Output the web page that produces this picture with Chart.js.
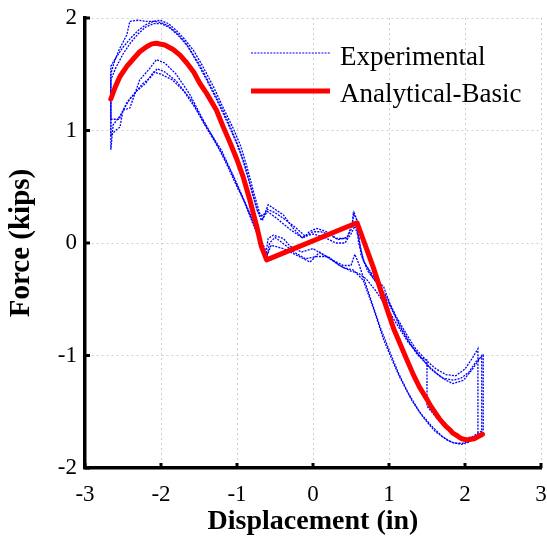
<!DOCTYPE html>
<html>
<head>
<meta charset="utf-8">
<script src="https://cdn.jsdelivr.net/npm/chart.js@4.4.1/dist/chart.umd.min.js"></script>
<style>
html,body{margin:0;padding:0;background:#fff;}
#wrap{width:547px;height:550px;position:relative;}
</style>
</head>
<body>
<div id="wrap"><canvas id="c" width="547" height="550"></canvas></div>
<script>
// ---- Data ----
const xTicks = [-3, -2, -1, 0, 1, 2, 3];
const yTicks = [-2, -1, 0, 1, 2];
const legendLabels = ['Experimental', 'Analytical-Basic'];

const anaX = [-2.66,-2.6,-2.54,-2.45,-2.36,-2.28,-2.19,-2.12,-2.06,-1.95,-1.84,-1.75,-1.66,-1.57,-1.49,-1.40,-1.27,-1.18,-1.09,-1.00,-0.92,-0.83,-0.74,-0.68,-0.61,0.58,0.79,0.925,1.06,1.23,1.32,1.40,1.50,1.55,1.61,1.66,1.71,1.75,1.80,1.84,1.89,1.92,1.96,2.02,2.12,2.23];
const anaY = [1.28,1.39,1.48,1.57,1.64,1.70,1.745,1.77,1.775,1.76,1.72,1.67,1.60,1.52,1.42,1.33,1.18,1.03,0.89,0.74,0.59,0.38,0.145,-0.03,-0.15,0.18,-0.21,-0.49,-0.76,-1.03,-1.17,-1.28,-1.39,-1.45,-1.51,-1.56,-1.60,-1.63,-1.66,-1.69,-1.71,-1.725,-1.74,-1.75,-1.74,-1.70];

const exp1X = [-2.66,-2.66,-2.6,-2.5,-2.4,-2.3,-2.2,-2.1,-2.01,-1.9,-1.8,-1.7,-1.57,-1.45,-1.31,-1.18,-1.05,-0.95,-0.87,-0.78,-0.7,-0.66,-0.59,-0.5,-0.39,-0.26,-0.13,-0.05,0.05,0.18,0.31,0.44,0.51,0.53,0.57,0.6,0.68,0.8,0.93,1.01,1.14,1.25,1.36,1.5,1.63,1.75,1.84,1.98,2.1,2.22,2.22,2.1,1.97,1.86,1.76,1.6,1.45,1.3,1.14,1.06,0.93,0.79,0.66,0.53,0.4,0.22,0.09,-0.04,-0.21,-0.39,-0.55,-0.61,-0.7,-0.79,-0.9,-1.0,-1.2,-1.42,-1.6,-1.8,-1.95,-2.05,-2.14,-2.25,-2.41,-2.55,-2.63,-2.66];
const exp1Y = [0.83,1.57,1.64,1.74,1.82,1.89,1.94,1.97,1.98,1.95,1.89,1.82,1.71,1.57,1.39,1.2,1.02,0.86,0.68,0.45,0.26,0.21,0.34,0.3,0.25,0.13,0.04,0.1,0.13,0.1,0.04,0.04,0.13,0.26,0.22,0.0,-0.18,-0.3,-0.39,-0.54,-0.74,-0.86,-0.98,-1.08,-1.16,-1.22,-1.25,-1.22,-1.12,-1.0,-1.69,-1.75,-1.78,-1.78,-1.75,-1.67,-1.55,-1.4,-1.19,-1.07,-0.86,-0.57,-0.33,-0.24,-0.22,-0.14,-0.08,-0.17,-0.11,-0.05,-0.02,-0.12,0.03,0.17,0.36,0.52,0.82,1.05,1.27,1.44,1.52,1.55,1.47,1.41,1.28,1.12,1.05,0.83];

const exp2X = [-2.66,-2.66,-2.62,-2.55,-2.45,-2.41,-2.3,-2.2,-2.1,-2.0,-1.9,-1.8,-1.7,-1.6,-1.48,-1.35,-1.2,-1.08,-0.97,-0.88,-0.8,-0.72,-0.66,-0.6,-0.5,-0.35,-0.2,-0.1,0.0,0.1,0.2,0.33,0.45,0.52,0.54,0.58,0.63,0.72,0.85,0.97,1.1,1.22,1.35,1.5,1.62,1.75,1.88,2.0,2.1,2.17,2.17,2.05,1.95,1.82,1.7,1.55,1.4,1.25,1.12,1.0,0.88,0.76,0.66,0.6,0.55,0.5,0.4,0.25,0.12,0.0,-0.15,-0.3,-0.39,-0.52,-0.59,-0.62,-0.68,-0.76,-0.88,-1.0,-1.15,-1.3,-1.45,-1.62,-1.8,-1.95,-2.06,-2.15,-2.28,-2.41,-2.5,-2.54,-2.6,-2.66];
const exp2Y = [0.95,1.5,1.6,1.72,1.85,1.97,1.98,1.97,1.97,1.96,1.93,1.87,1.8,1.7,1.57,1.4,1.2,1.02,0.84,0.64,0.45,0.27,0.24,0.3,0.27,0.2,0.12,0.06,0.1,0.1,0.08,0.03,0.05,0.18,0.27,0.2,-0.1,-0.25,-0.36,-0.48,-0.66,-0.8,-0.94,-1.05,-1.12,-1.17,-1.18,-1.12,-1.02,-0.94,-1.72,-1.77,-1.79,-1.77,-1.72,-1.62,-1.5,-1.33,-1.15,-0.95,-0.74,-0.5,-0.3,-0.18,-0.1,-0.2,-0.2,-0.15,-0.1,-0.05,-0.08,-0.03,0.04,0.07,0.04,-0.1,0.0,0.15,0.34,0.5,0.72,0.92,1.1,1.32,1.5,1.6,1.63,1.55,1.45,1.2,1.18,1.03,1.0,0.95];

const exp3X = [-2.66,-2.66,-2.6,-2.5,-2.4,-2.3,-2.2,-2.1,-2.0,-1.9,-1.78,-1.65,-1.52,-1.4,-1.25,-1.12,-1.0,-0.9,-0.82,-0.74,-0.68,-0.6,-0.48,-0.3,-0.15,0.0,0.15,0.3,0.42,0.5,0.55,0.6,0.66,0.78,0.9,1.02,1.15,1.28,1.42,1.5,1.5,1.62,1.76,1.9,2.0,2.1,2.2,2.24,2.24,2.15,2.05,1.95,1.85,1.7,1.55,1.4,1.25,1.1,0.95,0.82,0.7,0.6,0.5,0.35,0.2,0.05,-0.1,-0.25,-0.4,-0.5,-0.57,-0.6,-0.7,-0.8,-0.92,-1.05,-1.2,-1.38,-1.55,-1.7,-1.85,-2.0,-2.1,-2.2,-2.32,-2.45,-2.55,-2.66];
const exp3Y = [1.1,1.45,1.55,1.68,1.78,1.86,1.92,1.95,1.95,1.92,1.85,1.75,1.6,1.45,1.25,1.06,0.88,0.7,0.5,0.3,0.2,0.28,0.22,0.12,0.05,0.08,0.05,0.0,0.0,0.08,0.15,0.05,-0.15,-0.3,-0.42,-0.57,-0.74,-0.9,-1.02,-1.04,-1.45,-1.55,-1.65,-1.72,-1.74,-1.72,-1.68,-1.66,-1.0,-1.05,-1.15,-1.2,-1.22,-1.2,-1.12,-1.0,-0.88,-0.72,-0.55,-0.42,-0.32,-0.27,-0.25,-0.2,-0.12,-0.12,-0.14,-0.08,0.0,0.05,0.0,-0.1,0.05,0.2,0.4,0.6,0.8,1.0,1.2,1.35,1.45,1.5,1.52,1.42,1.35,1.25,1.1,1.1];

function pts(xs, ys){ return xs.map((x,i)=>({x:x, y:ys[i]})); }

const FONT = "'Liberation Serif', 'Times New Roman', serif";
const BLUE = '#0000ff';
const RED = '#ff0000';

function expDs(xs, ys){
  return {
    label: legendLabels[0], data: pts(xs, ys), showLine: true, pointRadius: 0,
    borderColor: BLUE, borderWidth: 1.3, borderDash: [2,1.2], fill: false, tension: 0
  };
}

const legendPlugin = {
  id: 'insideLegend',
  afterDraw(chart){
    const ctx = chart.ctx;
    ctx.save();
    const xs = chart.scales.x, ys = chart.scales.y, ca = chart.chartArea;
    ctx.strokeStyle = '#000'; ctx.lineWidth = 3; ctx.setLineDash([]);
    xTicks.forEach(v => { const p = xs.getPixelForValue(v); ctx.beginPath(); ctx.moveTo(p, ca.bottom); ctx.lineTo(p, ca.bottom - 5); ctx.stroke(); });
    yTicks.forEach(v => { const p = ys.getPixelForValue(v); ctx.beginPath(); ctx.moveTo(ca.left, p); ctx.lineTo(ca.left + 5, p); ctx.stroke(); });
    ctx.lineWidth = 1.2; ctx.strokeStyle = BLUE; ctx.setLineDash([2,1.2]);
    ctx.beginPath(); ctx.moveTo(251, 53); ctx.lineTo(330, 53); ctx.stroke();
    ctx.setLineDash([]); ctx.lineWidth = 5; ctx.strokeStyle = RED;
    ctx.beginPath(); ctx.moveTo(251, 91); ctx.lineTo(330, 91); ctx.stroke();
    ctx.fillStyle = '#000'; ctx.font = '27px ' + FONT; ctx.textBaseline = 'alphabetic'; ctx.textAlign = 'left';
    ctx.fillText(legendLabels[0], 340, 65);
    ctx.fillText(legendLabels[1], 340, 102);
    ctx.restore();
  }
};

new Chart(document.getElementById('c'), {
  type: 'scatter',
  data: {
    datasets: [
      { label: legendLabels[1], data: pts(anaX, anaY), showLine: true, pointRadius: 0,
        borderColor: RED, borderWidth: 5, borderJoinStyle: 'round', borderCapStyle: 'round', fill: false, tension: 0 },
      expDs(exp1X, exp1Y), expDs(exp2X, exp2Y), expDs(exp3X, exp3Y)
    ]
  },
  options: {
    responsive: false, animation: false, devicePixelRatio: 1,
    layout: { padding: { top: 18, right: 6, left: 0, bottom: 0 } },
    plugins: { legend: { display: false }, tooltip: { enabled: false } },
    scales: {
      x: {
        type: 'linear', min: -3, max: 3,
        afterBuildTicks: s => { s.ticks = xTicks.map(v => ({ value: v })); },
        afterFit: s => { s.height = 82; s.paddingLeft = 0; s.paddingRight = 0; },
        ticks: { color: '#000', font: { family: FONT, size: 23 }, padding: 13, maxRotation: 0 },
        grid: { color: '#cfcfcf', lineWidth: 1, drawTicks: false },
        border: { display: true, color: '#000', width: 3.5, dash: [2,3] },
        title: { display: true, text: 'Displacement (in)', color: '#000', font: { family: FONT, size: 28, weight: 'bold' }, padding: { top: 0, bottom: 11 } }
      },
      y: {
        type: 'linear', min: -2, max: 2,
        afterBuildTicks: s => { s.ticks = yTicks.map(v => ({ value: v })); },
        afterFit: s => { s.width = 85; s.paddingTop = 0; s.paddingBottom = 0; },
        ticks: { color: '#000', font: { family: FONT, size: 23 }, padding: 8 },
        grid: { color: '#cfcfcf', lineWidth: 1, drawTicks: false },
        border: { display: true, color: '#000', width: 3.5, dash: [2,3] },
        title: { display: true, text: 'Force (kips)', color: '#000', font: { family: FONT, size: 29, weight: 'bold' }, padding: { top: 4, bottom: 0 } }
      }
    }
  },
  plugins: [legendPlugin]
});
</script>
</body>
</html>
